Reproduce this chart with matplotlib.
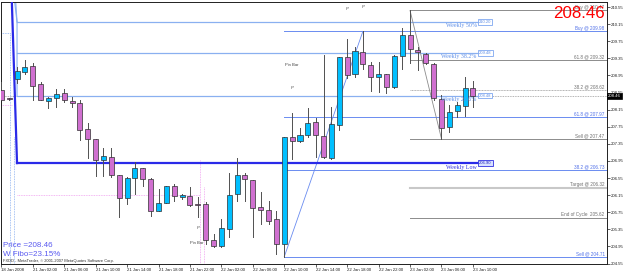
import matplotlib
matplotlib.use("Agg")
import matplotlib.pyplot as plt
import matplotlib.transforms as mtransforms

# ---------------- data ----------------
opens = [208.61, 208.40, 208.87, 209.03, 209.17, 208.75, 208.35, 208.42, 208.54, 208.35,
         208.31, 207.70, 207.46, 206.97, 207.04, 206.62, 206.08, 206.55, 206.78, 206.53,
         205.78, 205.97, 206.36, 206.11, 206.13, 205.94, 205.94, 205.10, 204.96, 205.36,
         206.18, 206.62, 206.50, 205.87, 205.80, 205.59, 205.01, 207.51, 207.42, 207.56,
         207.86, 207.53, 207.02, 207.79, 209.38, 208.98, 209.50, 209.19, 208.91, 208.98,
         208.68, 209.40, 209.90, 209.54, 209.45, 209.22, 208.40, 207.74, 208.12, 208.23,
         208.66]
highs = [208.80, 208.42, 209.15, 209.31, 209.24, 208.80, 208.45, 208.63, 208.63, 208.45,
         208.38, 207.84, 207.47, 207.25, 207.25, 206.63, 206.57, 206.92, 206.79, 206.54,
         206.29, 206.37, 206.41, 206.18, 206.34, 206.11, 205.99, 205.24, 205.59, 206.67,
         207.02, 206.67, 206.50, 206.22, 206.01, 205.78, 207.52, 208.07, 207.72, 208.19,
         207.95, 209.43, 208.21, 209.38, 209.80, 209.61, 209.98, 209.26, 209.26, 208.99,
         209.43, 210.06, 210.47, 209.61, 209.47, 209.23, 208.49, 208.26, 208.33, 208.91,
         208.82]
lows = [208.38, 208.38, 208.77, 208.98, 208.38, 208.37, 208.19, 208.21, 208.33, 208.21,
        207.44, 207.02, 206.60, 206.60, 206.57, 205.64, 205.94, 206.18, 206.36, 205.66,
        205.77, 205.96, 206.01, 206.06, 205.90, 205.64, 205.01, 204.94, 204.94, 205.17,
        206.01, 206.01, 205.17, 205.47, 205.47, 204.77, 204.71, 206.99, 207.40, 207.51,
        207.04, 207.02, 207.00, 207.67, 208.89, 208.91, 209.10, 208.59, 208.56, 208.54,
        208.66, 209.10, 209.24, 209.08, 209.22, 208.38, 207.47, 207.63, 207.98, 208.00,
        208.21]
closes = [208.38, 208.40, 209.05, 209.15, 208.70, 208.38, 208.42, 208.52, 208.38, 208.31,
          207.67, 207.46, 206.97, 207.07, 206.62, 206.08, 206.55, 206.78, 206.53, 205.78,
          205.97, 206.36, 206.13, 206.15, 205.92, 205.93, 205.10, 204.96, 205.38, 206.15,
          206.62, 206.53, 205.85, 205.80, 205.54, 205.01, 207.51, 207.42, 207.56, 207.84,
          207.56, 207.04, 207.81, 209.38, 208.96, 209.52, 209.22, 208.91, 208.98, 208.68,
          209.40, 209.90, 209.57, 209.50, 209.24, 208.42, 207.72, 208.09, 208.26, 208.66,
          208.46]

time_labels = ["18 Jan 2008", "21 Jan 02:00", "21 Jan 06:00", "21 Jan 10:00", "21 Jan 14:00",
               "21 Jan 18:00", "21 Jan 22:00", "22 Jan 02:00", "22 Jan 06:00", "22 Jan 10:00",
               "22 Jan 14:00", "22 Jan 18:00", "22 Jan 22:00", "23 Jan 02:00", "23 Jan 06:00",
               "23 Jan 10:00"]
price_ticks = [210.55, 210.15, 209.75, 209.35, 208.95, 208.55, 208.15, 207.75,
               207.35, 206.95, 206.55, 206.15, 205.75, 205.35, 204.95, 204.55]

weekly_names = ["Weekly 50%", "Weekly 38.2%", "Weekly 23.6%"]
weekly_values = [210.20, 209.48, 208.48]
weekly_low_name = "Weekly Low"
weekly_low = 206.90

fibA_names = ["Buy @", "61.8 @", "38.2 @", "Sell @", "Target @", "End of Cycle"]
fibA_values = [210.47, 209.32, 208.62, 207.47, 206.32, 205.62]
fibB_names = ["Buy @", "61.8 @", "38.2 @", "Sell @"]
fibB_values = [209.98, 207.97, 206.73, 204.71]

current_price = 208.46
w_fibo = 23.15
copyright_text = "FXDD - MetaTrader, \u00a9 2001-2007 MetaQuotes Software Corp."

# ---------------- figure ----------------
W, H = 625, 274
fig = plt.figure(figsize=(W / 100, H / 100), dpi=100)
fig.patch.set_facecolor("white")
ax = fig.add_axes([1 / W, 10 / H, 606 / W, 262 / H])
ax.set_facecolor("white")
n = len(opens)
XMIN, XMAX = -0.04, 77.06
ax.set_xlim(XMIN, XMAX)
ax.set_ylim(204.539, 210.668)

FONT = "Liberation Sans"
SERIF = "Liberation Serif"
bull = "#00BFFF"
bear = "#D070D0"
lightblue = "#8AB0F0"
fibblue = "#6A8CF0"
gray = "#8C8C8C"

# current price dotted line
ax.axhline(current_price, color="#9A9A9A", lw=0.6, ls=(0, (1, 1)), zorder=1)

# left decorative lines (weekly fib anchors)
ax.plot([1.30, 2.0], [210.9, weekly_low], color="#2A2AE8", lw=1.6, zorder=3)
ax.plot([1.55, 2.0], [210.9, weekly_values[0]], color=lightblue, lw=0.8, zorder=2)
ax.plot([1.75, 2.0, 2.0], [210.9, weekly_values[0], weekly_values[2]], color=lightblue, lw=0.8, zorder=2)
ax.plot([1.1, 1.1], [209.94, 204.539], color=lightblue, lw=0.6, ls=(0, (1, 1)), zorder=2)
ax.plot([1.6, 1.6], [207.5, 204.539], color=lightblue, lw=0.6, ls=(0, (1, 1)), zorder=2)
ax.plot([-0.04, 1.1], [209.94, 209.94], color=lightblue, lw=0.6, ls=(0, (1, 1)), zorder=2)
ax.plot([-0.04, 1.3], [208.26, 208.26], color="#F0A0F0", lw=0.6, ls=(0, (1, 1)), zorder=2)
ax.plot([2.0, 25.28], [206.15, 206.15], color="#F0A0F0", lw=0.6, ls=(0, (1, 1)), zorder=2)
ax.plot([25.28, 25.28], [206.97, 204.539], color="#F0A0F0", lw=0.6, ls=(0, (1, 1)), zorder=2)
ax.plot([25.79, 25.79], [206.34, 204.539], color="#F0A0F0", lw=0.6, ls=(0, (1, 1)), zorder=2)

# weekly levels
WEND = 60.65
for name, v in zip(weekly_names, weekly_values):
    ax.plot([2.0, WEND], [v, v], color=lightblue, lw=0.9, zorder=2)
    ax.text(WEND - 0.15, v - 0.03, name, fontsize=4.3, family=SERIF, color="#5F8FE8",
            ha="right", va="top", zorder=6)
    ax.text(WEND + 0.15, v, f"{v:.2f}", fontsize=3.0, family=FONT, color="#5F8FE8",
            ha="left", va="center", zorder=6,
            bbox=dict(boxstyle="square,pad=0.2", fc="white", ec="#7FA7F0", lw=0.6))
ax.plot([2.0, WEND], [weekly_low, weekly_low], color="#2A2AE8", lw=1.6, zorder=3)
ax.text(WEND - 0.15, weekly_low - 0.04, weekly_low_name, fontsize=4.3, family=SERIF,
        color="#3030E0", ha="right", va="top", zorder=6)
ax.text(WEND + 0.15, weekly_low, f"{weekly_low:.2f}", fontsize=3.0, family=FONT,
        color="#2020C0", ha="left", va="center", zorder=6,
        bbox=dict(boxstyle="square,pad=0.2", fc="#D8E0FF", ec="#3030E0", lw=0.6))

# fib set B (blue) anchored at the low bar, fib set A (gray) at the high bar
ib = 36
ia = 52
ib_hi = 46
ia_lo = 56
for name, v in zip(fibB_names, fibB_values):
    ax.plot([ib, XMAX], [v, v], color=fibblue, lw=0.7, zorder=2)
for name, v in zip(fibA_names, fibA_values):
    if name.startswith("Target"):
        ax.plot([ia, XMAX], [v, v], color="#C8C8C8", lw=1.5, zorder=2)
    elif name.startswith("38.2"):
        ax.plot([ia, XMAX], [v, v], color="#B0B0B0", lw=0.7, ls=(0, (1, 0.6)), zorder=2)
    else:
        ax.plot([ia, XMAX], [v, v], color=gray, lw=0.7, zorder=2)
# zigzags
ax.plot([ib, ib_hi], [fibB_values[3], fibB_values[0]], color=fibblue, lw=0.6, zorder=2)
ax.plot([ia, ia_lo], [fibA_values[0], fibA_values[3]], color=gray, lw=0.6, zorder=2)

# level labels on the right
blend = mtransforms.blended_transform_factory(ax.transAxes, ax.transData)
for name, v in zip(fibB_names, fibB_values):
    sep = " " if name.endswith("@") else "  "
    ax.text(0.996, v + 0.015, f"{name}{sep}{v:.2f}", transform=blend, fontsize=3.3, family=FONT,
            color="#4F6FE8", ha="right", va="bottom", zorder=6)
for name, v in zip(fibA_names, fibA_values):
    sep = " " if name.endswith("@") else "  "
    ax.text(0.996, v + 0.015, f"{name}{sep}{v:.2f}", transform=blend, fontsize=3.3, family=FONT,
            color="#707070", ha="right", va="bottom", zorder=6)

# candles
for i in range(n):
    o, h, l, c = opens[i], highs[i], lows[i], closes[i]
    ax.plot([i, i], [l, h], color="#505050", lw=0.7, zorder=4)
    col = bull if c > o else bear
    bot = min(o, c)
    ht = max(abs(c - o), 0.012)
    ax.bar(i, ht, bottom=bot, width=0.64, color=col, edgecolor="#303030", lw=0.5, zorder=5)

# annotations
ax.text(36.1, 209.20, "Pin Bar", fontsize=3.0, family=FONT, color="#404040", ha="left", va="center", zorder=6)
ax.text(24.0, 205.03, "Pin Bar", fontsize=3.0, family=FONT, color="#404040", ha="left", va="center", zorder=6)
for (xi, yv) in [(44, 210.50), (46, 210.55), (37, 208.66), (25, 205.38)]:
    ax.text(xi, yv, "P", fontsize=3.0, family=FONT, style="italic", color="#404040",
            ha="center", va="center", zorder=6)

# big current price
ax.text(0.9965, 210.39, f"{current_price:.2f}", transform=blend, fontsize=12.2, family=FONT,
        color="#FF0000", ha="right", va="center", zorder=8)

# bottom-left info texts
ax.text(0.003, 0.058, f"Price ={current_price:.2f}", transform=ax.transAxes, fontsize=5.8,
        family=FONT, color="#5A5AF0", ha="left", va="bottom", zorder=8)
ax.text(0.003, 0.021, f"W Fibo={w_fibo:.2f}%", transform=ax.transAxes, fontsize=5.8,
        family=FONT, color="#5A5AF0", ha="left", va="bottom", zorder=8)
ax.text(0.003, 0.002, copyright_text, transform=ax.transAxes, fontsize=2.9,
        family=FONT, color="#303030", ha="left", va="bottom", zorder=8)

# axes styling
for s in ax.spines.values():
    s.set_color("#202020")
    s.set_linewidth(0.7)
ax.yaxis.tick_right()
ax.set_yticks(price_ticks)
ax.set_yticklabels([f"{p:.2f}" for p in price_ticks])
ax.tick_params(axis="y", labelsize=3.1, length=2, width=0.5, pad=1, colors="#202020")
xt = list(range(0, n, 4))
ax.set_xticks(xt)
ax.set_xticklabels(time_labels)
ax.tick_params(axis="x", labelsize=3.1, length=2, width=0.5, pad=1, colors="#202020")
for lbl in ax.get_xticklabels() + ax.get_yticklabels():
    lbl.set_family(FONT)
for lbl in ax.get_xticklabels():
    lbl.set_ha("left")

# current price box on the price axis
ax.text(1.002, current_price, f"{current_price:.2f}", transform=blend, fontsize=3.1, family=FONT,
        color="white", ha="left", va="center", zorder=9, clip_on=False,
        bbox=dict(boxstyle="square,pad=0.25", fc="black", ec="black", lw=0.5))

fig.savefig("out.png", dpi=100, facecolor="white")
